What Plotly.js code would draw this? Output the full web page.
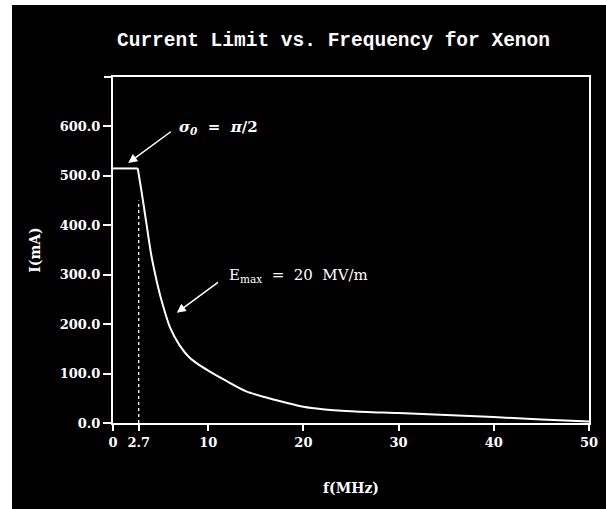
<!DOCTYPE html>
<html>
<head>
<meta charset="utf-8">
<script src="https://cdn.plot.ly/plotly-3.0.1.min.js"></script>
<style>html,body{margin:0;padding:0;background:#000;}#chart{width:606px;height:509px;}</style>
</head>
<body>
<div id="chart"></div>
<script>
// Data
const freqMHz = [0, 2.6, 3.0, 3.5, 4.0, 4.5, 5.0, 6.0, 7.0, 8.0, 9.0, 10, 12, 14, 16, 18, 20, 22, 25, 30, 35, 40, 45, 50];
const currentMA = [515, 515, 468, 405, 342, 295, 255, 193, 157, 133, 118, 106, 84, 64, 52, 42, 33, 28, 24, 20, 16, 12, 7, 3];
const cutoffF = [2.7, 2.7];
const cutoffI = [0, 450];
const xTickVals = [0, 2.7, 10, 20, 30, 40, 50];
const xTickText = ['0', '2.7', '10', '20', '30', '40', '50'];
const yTickVals = [0, 100, 200, 300, 400, 500, 600];
const yTickText = ['0.0', '100.0', '200.0', '300.0', '400.0', '500.0', '600.0'];

const tickFont = {family: 'DejaVu Serif', size: 13, color: '#fff', weight: 'bold'};
const labelFont = {family: 'DejaVu Serif', size: 14, color: '#fff', weight: 'bold'};

const traces = [
  {x: cutoffF, y: cutoffI, mode: 'lines', line: {color: '#fff', width: 1.3, dash: 'dot'}, hoverinfo: 'skip', showlegend: false},
  {x: freqMHz.slice(0, 2), y: currentMA.slice(0, 2), mode: 'lines', line: {color: '#fff', width: 2}, showlegend: false},
  {x: freqMHz.slice(1), y: currentMA.slice(1), mode: 'lines', line: {color: '#fff', width: 2, shape: 'spline', smoothing: 0.8}, showlegend: false}
];

const layout = {
  width: 606, height: 509,
  paper_bgcolor: '#000', plot_bgcolor: '#000',
  margin: {l: 113, r: 17, t: 77, b: 86},
  showlegend: false,
  title: {
    text: 'Current Limit vs. Frequency for Xenon',
    font: {family: 'Liberation Mono', size: 19.5, color: '#fff', weight: 'bold'},
    x: 333.5 / 606, xref: 'container', xanchor: 'center',
    y: 1 - 39 / 509, yref: 'container', yanchor: 'middle'
  },
  xaxis: {
    range: [0, 50], showgrid: false, zeroline: false,
    showline: true, linecolor: '#fff', linewidth: 2, mirror: true,
    ticks: 'outside', ticklen: 6, tickwidth: 2, tickcolor: '#fff',
    tickvals: xTickVals, ticktext: xTickText, tickfont: tickFont,
    title: {text: 'f(MHz)', font: labelFont, standoff: 35}
  },
  yaxis: {
    range: [0, 700], showgrid: false, zeroline: false,
    showline: true, linecolor: '#fff', linewidth: 2, mirror: true,
    ticks: 'outside', ticklen: 8, tickwidth: 2, tickcolor: '#fff',
    tickvals: yTickVals, ticktext: yTickText, tickfont: tickFont,
    title: {text: 'I(mA)', font: labelFont, standoff: 16}
  },
  shapes: [
    {type: 'rect', xref: 'paper', yref: 'paper', x0: -0.3, x1: -101 / 476, y0: -0.3, y1: 1.3, fillcolor: '#fff', line: {width: 0}, layer: 'below'},
    {type: 'rect', xref: 'paper', yref: 'paper', x0: -0.3, x1: 1.1, y0: 1 + 72 / 346, y1: 1.3, fillcolor: '#fff', line: {width: 0}, layer: 'below'},
    {type: 'line', xref: 'paper', yref: 'paper', x0: -9 / 476, x1: 0, y0: 1, y1: 1, line: {color: '#fff', width: 2}}
  ],
  annotations: [
    {x: 1.6, y: 526, xref: 'x', yref: 'y', showarrow: true, ax: 49, ay: -36,
     xanchor: 'left', yanchor: 'middle', startstandoff: 8,
     arrowcolor: '#fff', arrowwidth: 1.5, arrowhead: 2, arrowsize: 1.2,
     text: '<i>σ<sub>0</sub></i>  =  <i>π</i>/2', font: {family: 'DejaVu Serif', size: 15, color: '#fff', weight: 'bold'}},
    {x: 6.7, y: 223, xref: 'x', yref: 'y', showarrow: true, ax: 50, ay: -37,
     xanchor: 'left', yanchor: 'middle', startstandoff: 11,
     arrowcolor: '#fff', arrowwidth: 1.5, arrowhead: 2, arrowsize: 1.2,
     text: 'E<sub>max</sub>  =  20  MV/m', font: {family: 'DejaVu Serif', size: 15, color: '#fff'}}
  ]
};

Plotly.newPlot('chart', traces, layout, {displayModeBar: false, staticPlot: true});
</script>
</body>
</html>
